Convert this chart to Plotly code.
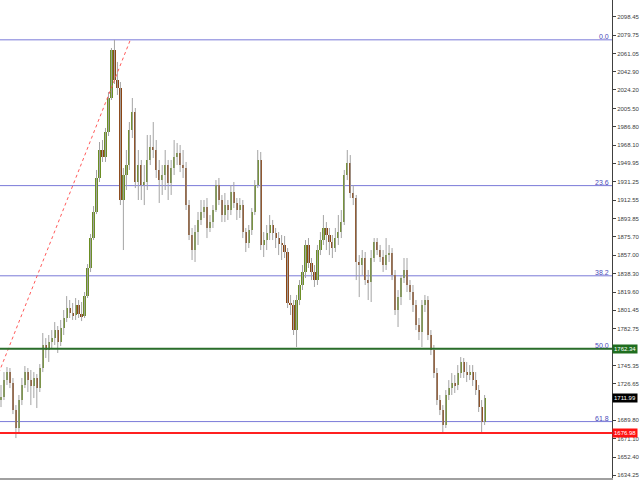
import plotly.graph_objects as go

# ---- OHLC data (daily bars) ----
opens = [1710.4, 1713.4, 1730.6, 1738.7, 1727.6, 1700.3, 1682.1, 1710.4, 1725.6, 1738.7,
         1730.6, 1724.6, 1732.7, 1722.5, 1742.8, 1766.1, 1761.0, 1769.1, 1773.1, 1781.2,
         1769.1, 1783.3, 1793.4, 1803.5, 1798.4, 1796.4, 1806.5, 1797.4, 1795.4, 1815.6,
         1844.0, 1874.3, 1900.7, 1935.1, 1963.4, 1956.3, 1981.6, 2016.0, 2064.6, 2034.2,
         2026.1, 1912.8, 1938.1, 1948.2, 1983.6, 2001.9, 1931.0, 1948.2, 1928.0, 1931.0,
         1953.3, 1966.4, 1963.4, 1943.2, 1933.0, 1938.1, 1948.2, 1930.0, 1945.2, 1956.3,
         1960.4, 1948.2, 1945.2, 1907.7, 1877.4, 1862.2, 1880.4, 1892.6, 1900.7, 1905.7,
         1884.5, 1890.5, 1902.7, 1928.0, 1912.8, 1897.6, 1907.7, 1902.7, 1920.9, 1909.8,
         1902.7, 1907.7, 1880.4, 1869.3, 1882.4, 1900.7, 1928.0, 1953.3, 1867.3, 1872.3,
         1879.4, 1887.5, 1879.4, 1874.3, 1868.3, 1867.3, 1860.2, 1808.6, 1806.5, 1781.2,
         1811.6, 1826.8, 1839.9, 1867.3, 1849.0, 1839.9, 1831.8, 1862.2, 1872.3, 1884.5,
         1877.4, 1870.3, 1864.2, 1874.3, 1880.4, 1890.5, 1938.1, 1950.2, 1919.9, 1914.8,
         1850.1, 1847.0, 1854.1, 1831.8, 1829.8, 1854.1, 1870.3, 1862.2, 1855.1, 1847.0,
         1857.1, 1859.2, 1836.9, 1801.5, 1814.6, 1833.9, 1842.0, 1826.8, 1819.7, 1806.5,
         1786.3, 1779.2, 1806.5, 1811.6, 1776.2, 1761.0, 1737.7, 1710.4, 1700.3, 1685.1,
         1715.5, 1722.5, 1727.6, 1725.6, 1737.7, 1748.9, 1738.7, 1735.7, 1738.7, 1730.6,
         1720.5, 1703.3, 1688.1]

highs = [1725.6, 1738.7, 1743.8, 1742.8, 1732.7, 1705.3, 1715.5, 1732.7, 1744.8, 1742.8,
         1740.8, 1738.7, 1736.7, 1746.8, 1778.2, 1773.1, 1776.2, 1781.2, 1789.3, 1785.3,
         1791.4, 1801.5, 1815.6, 1811.6, 1808.6, 1813.6, 1811.6, 1809.6, 1819.7, 1848.0,
         1878.4, 1906.7, 1943.2, 1971.5, 1973.5, 1985.7, 2022.1, 2066.6, 2074.9, 2052.5,
         2032.2, 1945.2, 1963.4, 1991.7, 2016.0, 2005.9, 1963.4, 1953.3, 1948.2, 1978.6,
         1978.6, 1991.7, 1973.5, 1953.3, 1948.2, 1963.4, 1953.3, 1953.3, 1973.5, 1970.5,
         1968.5, 1963.4, 1951.3, 1912.8, 1884.5, 1887.5, 1900.7, 1912.8, 1912.8, 1914.8,
         1897.6, 1907.7, 1933.0, 1935.1, 1917.9, 1919.9, 1912.8, 1928.0, 1931.0, 1914.8,
         1914.8, 1912.8, 1884.5, 1887.5, 1904.7, 1933.0, 1963.4, 1961.4, 1880.4, 1887.5,
         1897.6, 1892.6, 1884.5, 1880.4, 1877.4, 1876.4, 1864.2, 1816.7, 1811.6, 1816.7,
         1831.8, 1847.0, 1872.3, 1874.3, 1854.1, 1847.0, 1867.3, 1880.4, 1897.6, 1890.5,
         1884.5, 1877.4, 1884.5, 1897.6, 1902.7, 1943.2, 1963.4, 1958.3, 1928.0, 1917.9,
         1857.1, 1862.2, 1860.2, 1842.0, 1862.2, 1874.3, 1874.3, 1867.3, 1862.2, 1874.3,
         1867.3, 1864.2, 1842.0, 1821.7, 1836.9, 1854.1, 1854.1, 1831.8, 1826.8, 1811.6,
         1793.4, 1811.6, 1816.7, 1815.6, 1781.2, 1766.1, 1742.8, 1715.5, 1705.3, 1720.5,
         1730.6, 1737.7, 1735.7, 1745.8, 1753.9, 1752.9, 1748.9, 1745.8, 1745.8, 1738.7,
         1725.6, 1710.4, 1715.5]

lows = [1703.3, 1710.4, 1725.6, 1722.5, 1696.2, 1671.9, 1678.0, 1705.3, 1722.5, 1718.5,
        1705.3, 1712.4, 1702.3, 1718.5, 1738.7, 1752.9, 1748.9, 1763.0, 1766.1, 1758.0,
        1765.0, 1776.2, 1789.3, 1793.4, 1791.4, 1791.4, 1793.4, 1790.3, 1793.4, 1813.6,
        1839.9, 1872.3, 1898.6, 1931.0, 1951.3, 1951.3, 1977.6, 2014.0, 2030.2, 2019.1,
        1907.7, 1862.2, 1922.9, 1943.2, 1975.5, 1924.9, 1912.8, 1912.8, 1907.7, 1922.9,
        1948.2, 1955.3, 1935.1, 1909.8, 1917.9, 1922.9, 1912.8, 1917.9, 1938.1, 1948.2,
        1941.1, 1935.1, 1902.7, 1872.3, 1852.1, 1850.1, 1867.3, 1887.5, 1894.6, 1874.3,
        1880.4, 1884.5, 1900.7, 1907.7, 1890.5, 1890.5, 1892.6, 1897.6, 1904.7, 1892.6,
        1894.6, 1874.3, 1860.2, 1864.2, 1877.4, 1897.6, 1924.9, 1862.2, 1855.1, 1862.2,
        1872.3, 1872.3, 1864.2, 1857.1, 1852.1, 1854.1, 1803.5, 1796.4, 1776.2, 1764.0,
        1806.5, 1821.7, 1833.9, 1844.0, 1831.8, 1824.8, 1826.8, 1857.1, 1867.3, 1862.2,
        1857.1, 1854.1, 1860.2, 1867.3, 1874.3, 1887.5, 1933.0, 1914.8, 1907.7, 1831.8,
        1814.6, 1836.9, 1826.8, 1811.6, 1809.6, 1850.1, 1857.1, 1850.1, 1840.0, 1842.0,
        1850.1, 1831.8, 1796.4, 1784.3, 1806.5, 1828.8, 1819.7, 1811.6, 1799.5, 1781.2,
        1771.1, 1764.0, 1799.5, 1771.1, 1755.9, 1732.7, 1705.3, 1695.2, 1676.98, 1682.1,
        1710.4, 1715.5, 1717.5, 1720.5, 1732.7, 1732.7, 1728.6, 1730.6, 1724.6, 1715.5,
        1698.3, 1677.7, 1685.1]

closes = [1713.4, 1730.6, 1738.7, 1727.6, 1700.3, 1682.1, 1710.4, 1725.6, 1738.7, 1730.6,
          1724.6, 1732.7, 1722.5, 1742.8, 1766.1, 1761.0, 1769.1, 1773.1, 1781.2, 1769.1,
          1783.3, 1793.4, 1803.5, 1798.4, 1796.4, 1806.5, 1797.4, 1795.4, 1815.6, 1844.0,
          1874.3, 1900.7, 1935.1, 1963.4, 1956.3, 1981.6, 2016.0, 2064.6, 2034.2, 2026.1,
          1912.8, 1938.1, 1948.2, 1983.6, 2001.9, 1931.0, 1948.2, 1928.0, 1931.0, 1953.3,
          1966.4, 1963.4, 1943.2, 1933.0, 1938.1, 1948.2, 1930.0, 1945.2, 1956.3, 1960.4,
          1948.2, 1945.2, 1907.7, 1877.4, 1862.2, 1880.4, 1892.6, 1900.7, 1905.7, 1884.5,
          1890.5, 1902.7, 1928.0, 1912.8, 1897.6, 1907.7, 1902.7, 1920.9, 1909.8, 1902.7,
          1907.7, 1880.4, 1869.3, 1882.4, 1900.7, 1928.0, 1953.3, 1867.3, 1872.3, 1879.4,
          1887.5, 1879.4, 1874.3, 1868.3, 1867.3, 1860.2, 1808.6, 1806.5, 1781.2, 1811.6,
          1826.8, 1839.9, 1867.3, 1849.0, 1839.9, 1831.8, 1862.2, 1872.3, 1884.5, 1877.4,
          1870.3, 1864.2, 1874.3, 1880.4, 1890.5, 1938.1, 1950.2, 1919.9, 1914.8, 1850.1,
          1847.0, 1854.1, 1831.8, 1829.8, 1854.1, 1870.3, 1862.2, 1855.1, 1847.0, 1857.1,
          1859.2, 1836.9, 1801.5, 1814.6, 1833.9, 1842.0, 1826.8, 1819.7, 1806.5, 1786.3,
          1779.2, 1806.5, 1811.6, 1776.2, 1761.0, 1737.7, 1710.4, 1700.3, 1685.1, 1715.5,
          1722.5, 1727.6, 1725.6, 1737.7, 1748.9, 1738.7, 1735.7, 1738.7, 1730.6, 1720.5,
          1703.3, 1688.1, 1711.99]

# Fibonacci retracement (anchors: swing low -> swing high)
fib_low = 1449.8
fib_high = 2074.9
fib_anchor_bars = [-38.4, 43.33]
fib_levels = [0.0, 23.6, 38.2, 50.0, 61.8]

support_price = 1762.34
low_price = 1676.98
last_price = closes[-1]

ytick_vals = [2117.15, 2098.45, 2079.75, 2061.05, 2042.90, 2024.20, 2005.50, 1986.80,
              1968.10, 1949.95, 1931.25, 1912.55, 1893.85, 1875.70, 1857.00, 1838.30,
              1819.60, 1801.45, 1782.75, 1745.35, 1726.65, 1689.80,
              1671.10, 1652.40, 1634.25]
xtick_bars = [11, 23, 34.67, 46.67, 58.33, 70.33, 82, 94, 106, 117.67, 129.67, 141.33, 153.33]

UP = "#6b8e23"
DOWN = "#8b4513"
WICK = "#a4a4a4"
FIB = "#7a7ad8"

n = len(closes)
idx = list(range(n))
XMIN, XMAX = -1/3, 204.67

fig = go.Figure()

# wicks
wx, wy = [], []
for i in idx:
    wx += [i, i, None]
    wy += [lows[i], highs[i], None]
fig.add_trace(go.Scatter(x=wx, y=wy, mode="lines", line=dict(color=WICK, width=1),
                         hoverinfo="skip", showlegend=False))

# bodies
body_base = [min(o, c) for o, c in zip(opens, closes)]
body_h = [max(abs(c - o), 0.9) for o, c in zip(opens, closes)]
body_col = [UP if c >= o else DOWN for o, c in zip(opens, closes)]
fig.add_trace(go.Bar(x=idx, y=body_h, base=body_base, width=0.75,
                     marker=dict(color=body_col, line=dict(width=0)),
                     showlegend=False, hoverinfo="skip"))

# fib trend line (red dotted)
fig.add_trace(go.Scatter(x=fib_anchor_bars, y=[fib_low, fib_high], mode="lines",
                         line=dict(color="#ff5a5a", width=1, dash="dot"),
                         hoverinfo="skip", showlegend=False))

shapes = []
annotations = []
for lv in fib_levels:
    price = fib_high - lv / 100.0 * (fib_high - fib_low)
    shapes.append(dict(type="line", xref="x", yref="y", x0=fib_anchor_bars[0], x1=XMAX,
                       y0=price, y1=price, line=dict(color=FIB, width=1), layer="below"))
    annotations.append(dict(x=0.998, xref="paper", y=price, yref="y", text=f"{lv:.1f}",
                            showarrow=False, xanchor="right", yanchor="bottom", yshift=-2,
                            font=dict(size=7, color="#4a4ab8", family="Liberation Sans")))

shapes.append(dict(type="line", xref="paper", yref="y", x0=0, x1=1, y0=support_price,
                   y1=support_price, line=dict(color="#2a6e2a", width=2)))
shapes.append(dict(type="line", xref="paper", yref="y", x0=0, x1=1, y0=low_price,
                   y1=low_price, line=dict(color="#ff2020", width=2)))

for price, bg in [(support_price, "#1f6e1f"), (last_price, "#000000"), (low_price, "#ff1010")]:
    annotations.append(dict(x=1, xref="paper", y=price, yref="y", text=f"{price:.2f}",
                            showarrow=False, xanchor="left", yanchor="middle", xshift=0,
                            bgcolor=bg, borderpad=1,
                            font=dict(size=6, color="white", family="Liberation Sans")))

fig.update_layout(
    width=640, height=480,
    margin=dict(l=0, r=25, t=0, b=2),
    plot_bgcolor="white", paper_bgcolor="white",
    showlegend=False, bargap=0,
    shapes=shapes, annotations=annotations,
    xaxis=dict(range=[XMIN, XMAX], showgrid=False, zeroline=False, showline=True,
               linecolor="#a0a0a0", linewidth=2, ticks="outside", ticklen=2,
               tickcolor="#808080", tickvals=xtick_bars, showticklabels=False,
               fixedrange=True),
    yaxis=dict(side="right", range=[1631.5, 2115.2], showgrid=False, zeroline=False,
               showline=True, linecolor="#404040", linewidth=1, ticks="outside",
               ticklen=3, tickcolor="#404040", tickvals=ytick_vals,
               ticktext=[f"{v:.2f}" for v in ytick_vals], ticklabelstandoff=0,
               tickfont=dict(size=6, color="#404040", family="Liberation Sans"),
               fixedrange=True),
)

fig.write_html("out.html", config={"displayModeBar": False},
               post_script="document.body.style.margin='0';document.body.style.overflow='hidden';")
